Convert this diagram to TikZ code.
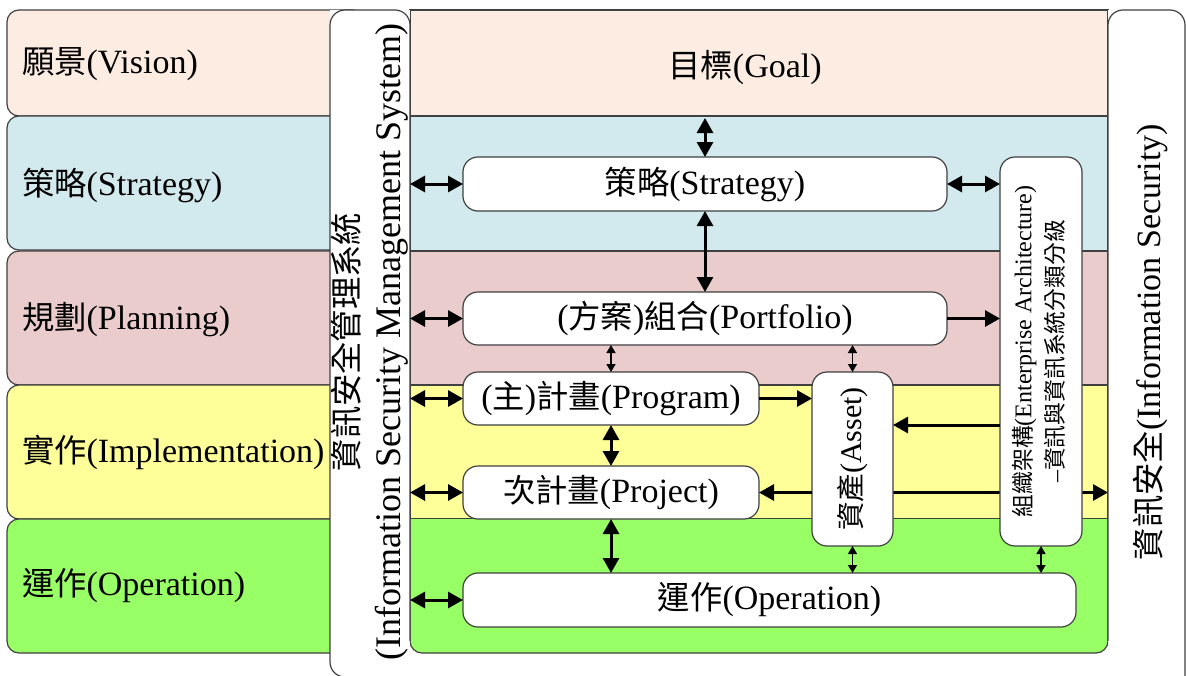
\documentclass[tikz,border=0pt]{standalone}
\usepackage{fontspec}
\setmainfont{Liberation Serif}
\newfontfamily\cjk{Noto Sans CJK TC}[Scale=0.95]
\newcommand\zh[1]{{\cjk #1}}
\usetikzlibrary{arrows.meta,calc}
\pgfdeclarelayer{bg}
\pgfdeclarelayer{mid}
\pgfsetlayers{bg,mid,main}
\definecolor{cVision}{HTML}{FCECE1}
\definecolor{cStrategy}{HTML}{D2E9EE}
\definecolor{cPlanning}{HTML}{EACCCC}
\definecolor{cImpl}{HTML}{FFFF99}
\definecolor{cOper}{HTML}{99FF66}
\definecolor{cLine}{HTML}{404040}
\tikzset{
  every node/.style={inner sep=0pt, outer sep=0pt},
  txt/.style={font=\fontsize{34}{40}\selectfont},
  edgeline/.style={draw=cLine, line width=1.2pt},
  band/.style={draw=cLine, line width=1.2pt},
  box/.style={draw=cLine, line width=1.2pt, fill=white, rounded corners=15pt, txt},
  bar/.style={fill=white, draw=none},
  big/.style={line width=3pt, {Triangle[length=15pt,width=16pt]}-{Triangle[length=15pt,width=16pt]}},
  bigone/.style={line width=3pt, -{Triangle[length=15pt,width=16pt]}},
  small/.style={line width=1.5pt, {Triangle[length=8pt,width=9pt]}-{Triangle[length=8pt,width=9pt]}},
  lbl/.style={txt, anchor=west},
}
\begin{document}
\begin{tikzpicture}[x=1pt,y=-1pt]
\useasboundingbox (0,0) rectangle (1186,675);

% ---------- bands ----------
\begin{pgfonlayer}{bg}
\draw[band, fill=cVision,   rounded corners=12pt] (7,10)  rectangle (365,116);
\draw[band, fill=cStrategy, rounded corners=12pt] (7,116) rectangle (365,250);
\draw[band, fill=cPlanning, rounded corners=12pt] (7,251) rectangle (365,385);
\draw[band, fill=cImpl,     rounded corners=12pt] (7,385) rectangle (365,519);
\draw[band, fill=cOper,     rounded corners=12pt] (7,519) rectangle (365,653);

\draw[band, fill=cVision]   (410,10)  rectangle (1108,116);
\draw[band, fill=cStrategy] (410,116) rectangle (1108,251);
\draw[band, fill=cPlanning] (410,251) rectangle (1108,385);
\draw[band, fill=cImpl]     (410,385) rectangle (1108,519);
\filldraw[band, fill=cOper] (410,519) [rounded corners=12pt] -- (410,653) -- (1108,653) -- (1108,519);
\end{pgfonlayer}

% ---------- side bars ----------
\node[bar, minimum width=80pt, minimum height=668pt] (isms) at (370,344) {};
\draw[edgeline] (410,641) [rounded corners=15pt] -- (410,10) -- (330,10) -- (330,677) -- (360,677);
\node[bar, minimum width=78pt, minimum height=668pt] (infosec) at (1147,344) {};
\draw[edgeline] (1108,641) [rounded corners=15pt] -- (1108,10) -- (1185,10) -- (1185,680);

% ---------- boxes ----------
\node[box, minimum width=484pt, minimum height=54pt] (strat) at (705,184)   {\zh{策略}(Strategy)};
\node[box, minimum width=484pt, minimum height=53pt] (port)  at (705,318.5) {(\zh{方案})\zh{組合}(Portfolio)};
\node[box, minimum width=296pt, minimum height=53pt] (prog)  at (611,398.5) {(\zh{主})\zh{計畫}(Program)};
\node[box, minimum width=296pt, minimum height=53pt] (proj)  at (611,492.5) {\zh{次計畫}(Project)};
\node[box, minimum width=613pt, minimum height=54pt] (oper)  at (769.5,600) {\zh{運作}(Operation)};
\node[box, minimum width=81pt, minimum height=174pt] (asset) at (852.5,459) {\rotatebox{90}{\fontsize{30}{36}\selectfont\zh{資產}(Asset)}};
\node[box, minimum width=82pt, minimum height=389pt] (ea)    at (1041,351.5) {\rotatebox{90}{\fontsize{24}{32}\selectfont\begin{tabular}{@{}c@{}}\zh{組織架構}(Enterprise Architecture)\\–\zh{資訊與資訊系統分類分級}\end{tabular}}};

% ---------- texts ----------
\node[lbl] (lvision) at (22,64)  {\zh{願景}(Vision)};
\node[lbl] (lstrat)  at (22,185) {\zh{策略}(Strategy)};
\node[lbl] (lplan)   at (22,320) {\zh{規劃}(Planning)};
\node[lbl] (limpl)   at (22,452) {\zh{實作}(Implementation)};
\node[lbl] (loper)   at (22,586) {\zh{運作}(Operation)};
\node[txt] (goal) at (745,68) {\zh{目標}(Goal)};
\node[rotate=90, align=center, font=\fontsize{36}{42}\selectfont] (ismstext) at (370,342)
  {{\fontsize{34}{42}\selectfont\zh{資訊安全管理系統}}\\(Information Security Management System)};
\node[rotate=90, txt] (infotext) at (1150,342) {\zh{資訊安全}(Information Security)};

% ---------- connectors ----------
\coordinate (goalend) at (705,118);
\draw[big] (goalend) -- (strat.north);
\draw[big] (strat.south) -- (port.north);
\draw[big] (isms.east |- strat.west) -- (strat.west);
\draw[big] (isms.east |- port.west) -- (port.west);
\draw[big] (isms.east |- prog.west) -- (prog.west);
\draw[big] (isms.east |- proj.west) -- (proj.west);
\draw[big] (isms.east |- oper.west) -- (oper.west);
\draw[big] (strat.east) -- (ea.west |- strat.east);
\draw[bigone] (port.east) -- (ea.west |- port.east);
\draw[small] (prog.north |- port.south) -- (prog.north);
\draw[small] (asset.north |- port.south) -- (asset.north);
\draw[bigone] (prog.east) -- (asset.west |- prog.east);
\coordinate (eaout) at ($(ea.west)+(0,73.5)$);
\draw[bigone] (eaout) -- (eaout -| asset.east);
\draw[bigone] (asset.west |- proj.east) -- (proj.east);
\begin{pgfonlayer}{mid}
\draw[bigone] (asset.east |- proj.east) -- (infosec.west |- proj.east);
\end{pgfonlayer}
\draw[big] (prog.south) -- (proj.north);
\draw[big] (proj.south) -- (oper.north -| proj.south);
\draw[small] (asset.south) -- (oper.north -| asset.south);
\draw[small] (ea.south) -- (oper.north -| ea.south);
\end{tikzpicture}
\end{document}
